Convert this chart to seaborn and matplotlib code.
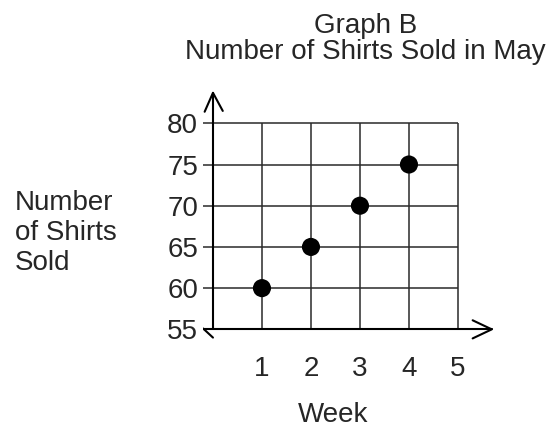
import matplotlib
matplotlib.use("Agg")
import matplotlib.pyplot as plt
import seaborn as sns
import pandas as pd

# Weekly shirt sales for May
weeks = [1, 2, 3, 4]
shirts_sold = [60, 65, 70, 75]
x_ticks = [1, 2, 3, 4, 5]
y_ticks = [55, 60, 65, 70, 75, 80]

sns.set_style("white")
plt.rcParams["font.family"] = ["Liberation Sans", "DejaVu Sans"]
plt.rcParams["font.size"] = 20

df = pd.DataFrame({"Week": weeks, "Shirts": shirts_sold})

fig = plt.figure(figsize=(5.53, 4.28), dpi=100)
ax = fig.add_axes([0.3674, 0.2016, 0.5316, 0.5970])
ax.set_xlim(-0.2, 5.8)
ax.set_ylim(53.5, 84.5)
for s in ax.spines.values():
    s.set_visible(False)

grid_kw = dict(color="#2a2a2a", lw=1.1, zorder=1)
axis_kw = dict(color="black", lw=1.5, zorder=2, solid_capstyle="round")

# horizontal grid lines (with short ticks left of the y axis)
ax.hlines(y_ticks[1:], -0.2, x_ticks[-1], **grid_kw)
# vertical grid lines
ax.vlines(x_ticks, y_ticks[0], y_ticks[-1], **grid_kw)

# y axis with open arrowhead
ax.plot([0, 0], [y_ticks[0], 83.7], **axis_kw)
ax.plot([-0.17, 0, 0.2], [81.4, 83.7, 81.5], **axis_kw)
# x axis with open arrowhead
ax.plot([-0.2, 5.69], [55, 55], **axis_kw)
ax.plot([5.3, 5.69, 5.3], [56.1, 55, 53.9], **axis_kw)
ax.plot([-0.2, 0.0], [55.1, 54.0], **axis_kw)

sns.scatterplot(data=df, x="Week", y="Shirts", s=170, color="black",
                edgecolor="none", ax=ax, zorder=3, legend=False)

ax.set_xticks(x_ticks)
ax.set_yticks(y_ticks)
ax.tick_params(axis="y", length=0, pad=3.6, labelsize=20)
ax.tick_params(axis="x", length=0, pad=10, labelsize=20)

ax.set_xlabel("Week", fontsize=20, va="baseline")
ax.xaxis.set_label_coords(0.4415, -0.316)
ax.set_ylabel("Number\nof Shirts\nSold", fontsize=20, rotation=0,
              ha="left", va="center", linespacing=1.2)
ax.yaxis.set_label_coords(-0.640, 0.425)

fig.text(0.6618, 1 - 33 / 428, "Graph B", ha="center", va="baseline", fontsize=20)
fig.text(0.6610, 1 - 59 / 428, "Number of Shirts Sold in May", ha="center",
         va="baseline", fontsize=20)

fig.savefig("out.png", dpi=100, facecolor="white")
